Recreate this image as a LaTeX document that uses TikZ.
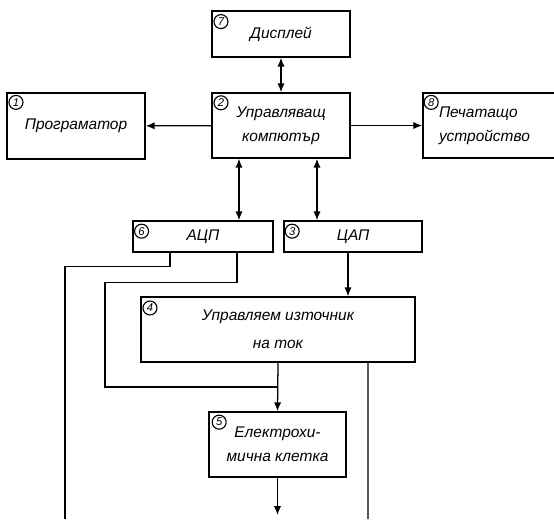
\documentclass[tikz,border=0pt]{standalone}
\usepackage{fontspec}
\setmainfont{Liberation Sans}
\usetikzlibrary{arrows.meta, positioning}

\begin{document}
\begin{tikzpicture}[
  x=0.25mm, y=-0.25mm,
  box/.style={draw, line width=1.1pt, minimum width=34.5mm, minimum height=16.5mm, align=center, font=\itshape\fontsize{11}{17}\selectfont, inner sep=2pt},
  num/.style={draw, circle, line width=0.8pt, minimum size=3.5mm, inner sep=0pt, font=\itshape\fontsize{8}{8}\selectfont},
  arr/.style={-{Latex[length=2.2mm, width=1.8mm]}, line width=0.9pt},
  dbl/.style={{Latex[length=2.2mm, width=1.8mm]}-{Latex[length=2.2mm, width=1.8mm]}, line width=0.9pt},
  wire/.style={line width=0.9pt}
]
\useasboundingbox (0,0) rectangle (554,519);
\clip (0,0) rectangle (554,519);

% top row
\node[box, minimum height=11.5mm] (disp) at (281,34)    {Дисплей};
\node[box, minimum height=16.25mm] (comp) at (281,125.5) {Управляващ\\компютър};
\node[box] (prog) at (76,126)    {Програматор};
\node[box, minimum height=16.25mm, align=left, text width=32mm, inner xsep=4mm] (prn) at (503,125.5) {Печатащо\\устройство};

% converters
\node[box, minimum width=35mm, minimum height=7.75mm] (adc) at (203,236.5) {АЦП};
\node[box, minimum height=7.75mm] (dac) at (353,236.5) {ЦАП};

% source and cell
\node[box, minimum width=68.5mm, minimum height=16.25mm, font=\itshape\fontsize{11}{20}\selectfont] (cur) at (278,329.5) {Управляем източник\\на ток};
\node[box, minimum width=34.25mm, minimum height=16.25mm] (cell) at (277.5,444.5) {Електрохи-\\мична клетка};

% numbers
\node[num, below right=1.5mm and 1.1mm of disp.north west] (n7) {7};
\node[num, below right=1.3mm and 1.1mm of comp.north west] (n2) {2};
\node[num, below right=1.2mm and 1.1mm of prog.north west] (n1) {1};
\node[num, below right=1.2mm and 0.9mm of prn.north west]  (n8) {8};
\node[num, below right=1.4mm and 1mm of adc.north west]    (n6) {6};
\node[num, below right=1.4mm and 0.9mm of dac.north west]  (n3) {3};
\node[num, below right=1.6mm and 1.1mm of cur.north west]  (n4) {4};
\node[num, below right=1.4mm and 1.4mm of cell.north west] (n5) {5};

% free ends at the bottom edge
\coordinate (outA) at (65,519);
\coordinate (outB) at (277.5,515);
\coordinate (outC) at (368,519);
\coordinate (jn)   at (277.5,387);

\draw[dbl] (disp) -- (comp);
\draw[arr] (comp) -- (prog);
\draw[arr] (comp) -- (prn);
\draw[dbl] ([xshift=-10.5mm]comp.south) -- ([xshift=-10.5mm]comp.south |- adc.north);
\draw[dbl] ([xshift=9mm]comp.south) -- ([xshift=9mm]comp.south |- dac.north);
\draw[arr] ([xshift=-1.25mm]dac.south) -- ([xshift=-1.25mm]dac.south |- cur.north);
\draw[wire] ([xshift=-8.25mm]adc.south) -- ++(0,14) -| (outA);
\draw[wire] ([xshift=8.5mm]adc.south) -- ++(0,30) -- ++(-132,0) |- (jn);
\draw[arr] (cur.south) -- (cell.north);
\draw[wire] ([xshift=22.5mm]cur.south) -- (outC);
\draw[arr] (cell.south) -- (outB);
\end{tikzpicture}
\end{document}
